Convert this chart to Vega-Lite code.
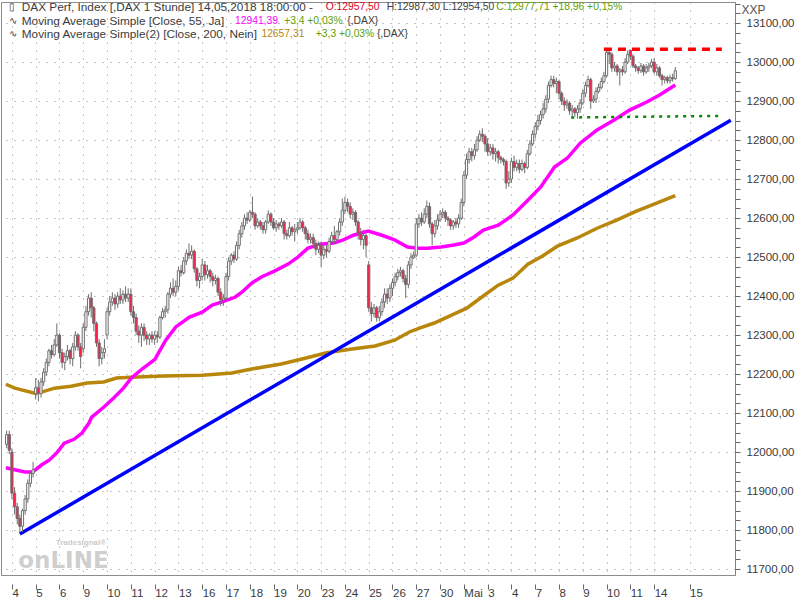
{
"$schema": "https://vega.github.io/schema/vega-lite/v6.json",
"width": 734, "height": 573,
"autosize": {"type": "none"},
"padding": {"left": 1, "top": 2, "right": 65, "bottom": 25},
"background": "white",
"config": {"view": {"stroke": "#8c8c8c", "strokeWidth": 1}, "font": "Liberation Sans", "axis": {"labelFont": "Liberation Sans", "labelOverlap": false}},
"datasets": {
"ohlc": [
{"i":-2,"o":12020,"h":12055,"l":12010,"c":12045},{"i":-1,"o":12045,"h":12055,"l":11995,"c":12005},
{"i":0,"o":12000,"h":12010,"l":11880,"c":11895},{"i":1,"o":11895,"h":11910,"l":11840,"c":11860},{"i":2,"o":11860,"h":11870,"l":11815,"c":11830},{"i":3,"o":11830,"h":11840,"l":11795,"c":11810},{"i":4,"o":11810,"h":11855,"l":11795,"c":11850},{"i":5,"o":11850,"h":11890,"l":11840,"c":11880},{"i":6,"o":11880,"h":11930,"l":11870,"c":11920},{"i":7,"o":11920,"h":11950,"l":11910,"c":11945},{"i":8,"o":11945,"h":11975,"l":11935,"c":11955},
{"i":9,"o":12150,"h":12190,"l":12135,"c":12165},{"i":10,"o":12165,"h":12185,"l":12130,"c":12150},{"i":11,"o":12150,"h":12190,"l":12140,"c":12180},{"i":12,"o":12180,"h":12215,"l":12170,"c":12205},{"i":13,"o":12205,"h":12240,"l":12195,"c":12230},{"i":14,"o":12230,"h":12265,"l":12220,"c":12260},{"i":15,"o":12260,"h":12275,"l":12240,"c":12250},{"i":16,"o":12250,"h":12290,"l":12245,"c":12275},{"i":17,"o":12275,"h":12330,"l":12270,"c":12300},
{"i":18,"o":12300,"h":12305,"l":12240,"c":12255},{"i":19,"o":12255,"h":12265,"l":12215,"c":12230},{"i":20,"o":12230,"h":12255,"l":12210,"c":12245},{"i":21,"o":12245,"h":12275,"l":12235,"c":12260},{"i":22,"o":12260,"h":12265,"l":12225,"c":12240},{"i":23,"o":12240,"h":12280,"l":12220,"c":12270},{"i":24,"o":12270,"h":12310,"l":12260,"c":12300},{"i":25,"o":12300,"h":12305,"l":12260,"c":12270},{"i":26,"o":12270,"h":12280,"l":12215,"c":12245},
{"i":27,"o":12265,"h":12330,"l":12255,"c":12320},{"i":28,"o":12320,"h":12375,"l":12310,"c":12360},{"i":29,"o":12360,"h":12405,"l":12350,"c":12395},{"i":30,"o":12395,"h":12410,"l":12345,"c":12370},{"i":31,"o":12370,"h":12375,"l":12310,"c":12330},{"i":32,"o":12330,"h":12335,"l":12270,"c":12280},{"i":33,"o":12280,"h":12290,"l":12220,"c":12240},{"i":34,"o":12240,"h":12270,"l":12225,"c":12255},{"i":35,"o":12255,"h":12290,"l":12240,"c":12265},
{"i":36,"o":12300,"h":12370,"l":12290,"c":12360},{"i":37,"o":12360,"h":12400,"l":12350,"c":12385},{"i":38,"o":12385,"h":12410,"l":12375,"c":12395},{"i":39,"o":12395,"h":12405,"l":12365,"c":12380},{"i":40,"o":12380,"h":12410,"l":12370,"c":12400},{"i":41,"o":12400,"h":12420,"l":12380,"c":12390},{"i":42,"o":12390,"h":12415,"l":12380,"c":12405},{"i":43,"o":12405,"h":12425,"l":12385,"c":12395},{"i":44,"o":12395,"h":12420,"l":12385,"c":12405},
{"i":45,"o":12405,"h":12420,"l":12350,"c":12360},{"i":46,"o":12360,"h":12375,"l":12330,"c":12345},{"i":47,"o":12345,"h":12355,"l":12300,"c":12310},{"i":48,"o":12310,"h":12325,"l":12280,"c":12300},{"i":49,"o":12300,"h":12330,"l":12270,"c":12320},{"i":50,"o":12320,"h":12330,"l":12285,"c":12300},{"i":51,"o":12300,"h":12310,"l":12275,"c":12290},{"i":52,"o":12290,"h":12305,"l":12275,"c":12300},{"i":53,"o":12300,"h":12310,"l":12280,"c":12290},
{"i":54,"o":12290,"h":12310,"l":12275,"c":12300},{"i":55,"o":12300,"h":12310,"l":12280,"c":12295},{"i":56,"o":12295,"h":12350,"l":12290,"c":12345},{"i":57,"o":12345,"h":12370,"l":12340,"c":12360},{"i":58,"o":12360,"h":12375,"l":12345,"c":12365},{"i":59,"o":12365,"h":12410,"l":12355,"c":12405},{"i":60,"o":12405,"h":12435,"l":12395,"c":12420},{"i":61,"o":12420,"h":12445,"l":12400,"c":12410},{"i":62,"o":12410,"h":12440,"l":12400,"c":12425},
{"i":63,"o":12425,"h":12475,"l":12415,"c":12465},{"i":64,"o":12465,"h":12480,"l":12450,"c":12460},{"i":65,"o":12460,"h":12500,"l":12455,"c":12490},{"i":66,"o":12490,"h":12520,"l":12480,"c":12510},{"i":67,"o":12510,"h":12535,"l":12495,"c":12505},{"i":68,"o":12505,"h":12530,"l":12495,"c":12515},{"i":69,"o":12515,"h":12520,"l":12460,"c":12470},{"i":70,"o":12470,"h":12475,"l":12425,"c":12440},{"i":71,"o":12440,"h":12460,"l":12420,"c":12450},
{"i":72,"o":12450,"h":12495,"l":12440,"c":12480},{"i":73,"o":12480,"h":12490,"l":12440,"c":12455},{"i":74,"o":12455,"h":12480,"l":12445,"c":12465},{"i":75,"o":12465,"h":12470,"l":12435,"c":12450},{"i":76,"o":12450,"h":12460,"l":12425,"c":12440},{"i":77,"o":12440,"h":12455,"l":12430,"c":12445},{"i":78,"o":12445,"h":12450,"l":12400,"c":12410},{"i":79,"o":12410,"h":12420,"l":12375,"c":12390},{"i":80,"o":12390,"h":12405,"l":12375,"c":12395},
{"i":81,"o":12395,"h":12460,"l":12390,"c":12450},{"i":82,"o":12450,"h":12500,"l":12440,"c":12490},{"i":83,"o":12490,"h":12510,"l":12480,"c":12505},{"i":84,"o":12505,"h":12515,"l":12485,"c":12495},{"i":85,"o":12495,"h":12540,"l":12490,"c":12530},{"i":86,"o":12530,"h":12570,"l":12520,"c":12560},{"i":87,"o":12560,"h":12590,"l":12550,"c":12580},{"i":88,"o":12580,"h":12610,"l":12570,"c":12600},{"i":89,"o":12600,"h":12615,"l":12585,"c":12595},
{"i":90,"o":12595,"h":12620,"l":12590,"c":12615},{"i":91,"o":12615,"h":12655,"l":12600,"c":12610},{"i":92,"o":12610,"h":12615,"l":12570,"c":12580},{"i":93,"o":12580,"h":12600,"l":12575,"c":12590},{"i":94,"o":12590,"h":12595,"l":12570,"c":12580},{"i":95,"o":12580,"h":12590,"l":12560,"c":12570},{"i":96,"o":12570,"h":12595,"l":12560,"c":12590},{"i":97,"o":12590,"h":12620,"l":12585,"c":12610},{"i":98,"o":12610,"h":12615,"l":12580,"c":12590},
{"i":99,"o":12590,"h":12600,"l":12570,"c":12575},{"i":100,"o":12575,"h":12595,"l":12565,"c":12585},{"i":101,"o":12585,"h":12590,"l":12570,"c":12580},{"i":102,"o":12580,"h":12600,"l":12575,"c":12590},{"i":103,"o":12590,"h":12595,"l":12545,"c":12560},{"i":104,"o":12560,"h":12570,"l":12545,"c":12555},{"i":105,"o":12555,"h":12590,"l":12550,"c":12575},{"i":106,"o":12575,"h":12580,"l":12555,"c":12565},{"i":107,"o":12565,"h":12585,"l":12540,"c":12570},
{"i":108,"o":12570,"h":12590,"l":12560,"c":12575},{"i":109,"o":12575,"h":12600,"l":12570,"c":12590},{"i":110,"o":12590,"h":12595,"l":12565,"c":12575},{"i":111,"o":12575,"h":12580,"l":12545,"c":12560},{"i":112,"o":12560,"h":12570,"l":12535,"c":12545},{"i":113,"o":12545,"h":12560,"l":12535,"c":12550},{"i":114,"o":12550,"h":12560,"l":12525,"c":12535},{"i":115,"o":12535,"h":12545,"l":12505,"c":12520},{"i":116,"o":12520,"h":12540,"l":12510,"c":12530},
{"i":117,"o":12530,"h":12540,"l":12475,"c":12505},{"i":118,"o":12505,"h":12530,"l":12495,"c":12520},{"i":119,"o":12520,"h":12530,"l":12500,"c":12515},{"i":120,"o":12515,"h":12550,"l":12510,"c":12540},{"i":121,"o":12540,"h":12565,"l":12535,"c":12555},{"i":122,"o":12555,"h":12580,"l":12535,"c":12545},{"i":123,"o":12545,"h":12570,"l":12540,"c":12565},{"i":124,"o":12565,"h":12600,"l":12555,"c":12590},{"i":125,"o":12590,"h":12650,"l":12580,"c":12620},
{"i":126,"o":12620,"h":12655,"l":12610,"c":12640},{"i":127,"o":12640,"h":12650,"l":12615,"c":12630},{"i":128,"o":12630,"h":12640,"l":12600,"c":12610},{"i":129,"o":12610,"h":12625,"l":12595,"c":12615},{"i":130,"o":12615,"h":12620,"l":12580,"c":12590},{"i":131,"o":12590,"h":12595,"l":12545,"c":12560},{"i":132,"o":12560,"h":12575,"l":12530,"c":12545},{"i":133,"o":12545,"h":12570,"l":12520,"c":12555},{"i":134,"o":12555,"h":12560,"l":12500,"c":12530},
{"i":135,"o":12480,"h":12490,"l":12360,"c":12370},{"i":136,"o":12370,"h":12385,"l":12335,"c":12355},{"i":137,"o":12355,"h":12380,"l":12345,"c":12370},{"i":138,"o":12370,"h":12375,"l":12335,"c":12345},{"i":139,"o":12345,"h":12375,"l":12335,"c":12360},{"i":140,"o":12360,"h":12395,"l":12350,"c":12385},{"i":141,"o":12385,"h":12420,"l":12370,"c":12405},{"i":142,"o":12405,"h":12420,"l":12380,"c":12395},{"i":143,"o":12395,"h":12430,"l":12385,"c":12420},
{"i":144,"o":12420,"h":12445,"l":12400,"c":12435},{"i":145,"o":12435,"h":12460,"l":12425,"c":12450},{"i":146,"o":12450,"h":12470,"l":12440,"c":12460},{"i":147,"o":12460,"h":12475,"l":12450,"c":12465},{"i":148,"o":12465,"h":12470,"l":12435,"c":12445},{"i":149,"o":12445,"h":12455,"l":12395,"c":12430},{"i":150,"o":12430,"h":12490,"l":12420,"c":12480},{"i":151,"o":12480,"h":12510,"l":12470,"c":12500},{"i":152,"o":12500,"h":12515,"l":12495,"c":12505},
{"i":153,"o":12505,"h":12600,"l":12500,"c":12585},{"i":154,"o":12585,"h":12610,"l":12575,"c":12600},{"i":155,"o":12600,"h":12615,"l":12580,"c":12590},{"i":156,"o":12590,"h":12625,"l":12585,"c":12610},{"i":157,"o":12610,"h":12645,"l":12600,"c":12630},{"i":158,"o":12630,"h":12640,"l":12575,"c":12585},{"i":159,"o":12585,"h":12590,"l":12530,"c":12560},{"i":160,"o":12560,"h":12595,"l":12550,"c":12580},{"i":161,"o":12580,"h":12610,"l":12570,"c":12595},
{"i":162,"o":12595,"h":12620,"l":12590,"c":12610},{"i":163,"o":12610,"h":12625,"l":12600,"c":12615},{"i":164,"o":12615,"h":12620,"l":12590,"c":12600},{"i":165,"o":12600,"h":12605,"l":12580,"c":12595},{"i":166,"o":12595,"h":12600,"l":12570,"c":12580},{"i":167,"o":12580,"h":12595,"l":12570,"c":12590},{"i":168,"o":12590,"h":12600,"l":12575,"c":12585},{"i":169,"o":12585,"h":12610,"l":12575,"c":12600},{"i":170,"o":12600,"h":12650,"l":12595,"c":12640},
{"i":171,"o":12640,"h":12720,"l":12630,"c":12710},{"i":172,"o":12710,"h":12765,"l":12700,"c":12750},{"i":173,"o":12750,"h":12780,"l":12740,"c":12770},{"i":174,"o":12770,"h":12780,"l":12745,"c":12760},{"i":175,"o":12760,"h":12790,"l":12750,"c":12775},{"i":176,"o":12775,"h":12810,"l":12770,"c":12800},{"i":177,"o":12800,"h":12825,"l":12795,"c":12815},{"i":178,"o":12815,"h":12830,"l":12795,"c":12810},{"i":179,"o":12810,"h":12815,"l":12770,"c":12790},
{"i":180,"o":12790,"h":12805,"l":12760,"c":12770},{"i":181,"o":12770,"h":12790,"l":12760,"c":12780},{"i":182,"o":12780,"h":12790,"l":12750,"c":12765},{"i":183,"o":12765,"h":12780,"l":12745,"c":12770},{"i":184,"o":12770,"h":12775,"l":12740,"c":12755},{"i":185,"o":12755,"h":12760,"l":12740,"c":12750},{"i":186,"o":12750,"h":12755,"l":12735,"c":12745},{"i":187,"o":12745,"h":12750,"l":12675,"c":12690},{"i":188,"o":12690,"h":12720,"l":12680,"c":12700},
{"i":189,"o":12700,"h":12755,"l":12690,"c":12745},{"i":190,"o":12745,"h":12760,"l":12720,"c":12730},{"i":191,"o":12730,"h":12750,"l":12720,"c":12740},{"i":192,"o":12740,"h":12750,"l":12715,"c":12725},{"i":193,"o":12725,"h":12750,"l":12720,"c":12740},{"i":194,"o":12740,"h":12745,"l":12715,"c":12730},{"i":195,"o":12730,"h":12775,"l":12725,"c":12765},{"i":196,"o":12765,"h":12800,"l":12760,"c":12790},{"i":197,"o":12790,"h":12825,"l":12785,"c":12815},
{"i":198,"o":12815,"h":12845,"l":12805,"c":12835},{"i":199,"o":12835,"h":12865,"l":12825,"c":12850},{"i":200,"o":12850,"h":12875,"l":12840,"c":12865},{"i":201,"o":12865,"h":12895,"l":12855,"c":12880},{"i":202,"o":12880,"h":12915,"l":12870,"c":12905},{"i":203,"o":12905,"h":12950,"l":12895,"c":12940},{"i":204,"o":12940,"h":12965,"l":12935,"c":12955},{"i":205,"o":12955,"h":12965,"l":12935,"c":12945},{"i":206,"o":12945,"h":12960,"l":12920,"c":12950},
{"i":207,"o":12950,"h":12955,"l":12905,"c":12920},{"i":208,"o":12920,"h":12925,"l":12890,"c":12900},{"i":209,"o":12900,"h":12910,"l":12875,"c":12890},{"i":210,"o":12890,"h":12905,"l":12880,"c":12895},{"i":211,"o":12895,"h":12900,"l":12865,"c":12875},{"i":212,"o":12875,"h":12890,"l":12860,"c":12880},{"i":213,"o":12880,"h":12885,"l":12860,"c":12870},{"i":214,"o":12870,"h":12890,"l":12855,"c":12880},{"i":215,"o":12880,"h":12905,"l":12870,"c":12895},
{"i":216,"o":12895,"h":12930,"l":12890,"c":12920},{"i":217,"o":12920,"h":12950,"l":12910,"c":12940},{"i":218,"o":12940,"h":12965,"l":12935,"c":12955},{"i":219,"o":12955,"h":12960,"l":12880,"c":12900},{"i":220,"o":12900,"h":12915,"l":12895,"c":12905},{"i":221,"o":12905,"h":12935,"l":12895,"c":12925},{"i":222,"o":12925,"h":12945,"l":12920,"c":12935},{"i":223,"o":12935,"h":12960,"l":12930,"c":12950},{"i":224,"o":12950,"h":12975,"l":12945,"c":12965},
{"i":225,"o":12965,"h":13033,"l":12960,"c":13025},{"i":226,"o":13025,"h":13032,"l":12995,"c":13020},{"i":227,"o":13020,"h":13025,"l":12975,"c":12985},{"i":228,"o":12985,"h":13000,"l":12975,"c":12990},{"i":229,"o":12990,"h":12995,"l":12965,"c":12975},{"i":230,"o":12975,"h":12985,"l":12940,"c":12980},{"i":231,"o":12980,"h":12990,"l":12965,"c":12975},{"i":232,"o":12975,"h":13010,"l":12970,"c":13000},{"i":233,"o":13000,"h":13030,"l":12995,"c":13020},
{"i":234,"o":13030,"h":13033,"l":13005,"c":13015},{"i":235,"o":13015,"h":13020,"l":12985,"c":12990},{"i":236,"o":12990,"h":12995,"l":12975,"c":12985},{"i":237,"o":12985,"h":12990,"l":12970,"c":12978},{"i":238,"o":12978,"h":12998,"l":12972,"c":12990},{"i":239,"o":12990,"h":12995,"l":12965,"c":12975},{"i":240,"o":12975,"h":12995,"l":12970,"c":12985},{"i":241,"o":12985,"h":12998,"l":12975,"c":12990},{"i":242,"o":12990,"h":13008,"l":12985,"c":13000},
{"i":243,"o":13000,"h":13010,"l":12970,"c":12975},{"i":244,"o":12975,"h":12995,"l":12965,"c":12985},{"i":245,"o":12985,"h":12990,"l":12960,"c":12965},{"i":246,"o":12965,"h":12970,"l":12940,"c":12955},{"i":247,"o":12955,"h":12965,"l":12945,"c":12960},{"i":248,"o":12960,"h":12965,"l":12945,"c":12952},{"i":249,"o":12952,"h":12968,"l":12945,"c":12960},{"i":250,"o":12960,"h":12970,"l":12950,"c":12957.5},{"i":251,"o":12957.5,"h":12987.3,"l":12954.5,"c":12977.71}
],
"ma55": [
{"i":-2.3,"v":11960},{"i":4.85,"v":11949},{"i":7.84,"v":11949},{"i":11.2,"v":11967},{"i":14.2,"v":11980},{"i":17.2,"v":12000},{"i":19.8,"v":12023},{"i":23.5,"v":12033},{"i":26.5,"v":12049},{"i":29.1,"v":12074},{"i":30.2,"v":12090},{"i":34.7,"v":12115},{"i":38.4,"v":12138},{"i":42.2,"v":12164},{"i":45.2,"v":12190},{"i":49.6,"v":12215},{"i":54.1,"v":12238},{"i":58.2,"v":12287},{"i":62.0,"v":12321},{"i":67.2,"v":12346},{"i":72.0,"v":12359},{"i":75.8,"v":12377},{"i":79.5,"v":12385},{"i":84.4,"v":12397},{"i":87.0,"v":12410},{"i":90.7,"v":12433},{"i":94.4,"v":12449},{"i":99.3,"v":12464},{"i":104.5,"v":12482},{"i":108.2,"v":12500},{"i":112.0,"v":12523},{"i":116.8,"v":12533},{"i":121.7,"v":12536},{"i":125.4,"v":12544},{"i":129.2,"v":12556},{"i":134.8,"v":12567},{"i":140.0,"v":12556},{"i":144.8,"v":12544},{"i":149.7,"v":12526},{"i":153.4,"v":12523},{"i":157.2,"v":12523},{"i":162.4,"v":12526},{"i":167.2,"v":12531},{"i":171.0,"v":12536},{"i":174.7,"v":12551},{"i":178.4,"v":12569},{"i":184.0,"v":12582},{"i":189.6,"v":12608},{"i":195.2,"v":12646},{"i":200.1,"v":12680},{"i":205.3,"v":12731},{"i":210.2,"v":12754},{"i":215.0,"v":12792},{"i":221.4,"v":12826},{"i":227.7,"v":12851},{"i":233.7,"v":12877},{"i":240.0,"v":12897},{"i":244.9,"v":12915},{"i":251.0,"v":12941.39}
],
"ma200": [
{"i":-2.3,"v":12174},{"i":1.1,"v":12164},{"i":8.6,"v":12151},{"i":11.2,"v":12154},{"i":16.1,"v":12164},{"i":22.4,"v":12169},{"i":28.4,"v":12177},{"i":34.7,"v":12180},{"i":39.6,"v":12190},{"i":45.2,"v":12192},{"i":57.1,"v":12195},{"i":72.0,"v":12197},{"i":83.2,"v":12203},{"i":90.7,"v":12213},{"i":101.9,"v":12226},{"i":109.4,"v":12238},{"i":118.7,"v":12254},{"i":128.0,"v":12264},{"i":137.4,"v":12272},{"i":144.8,"v":12287},{"i":150.4,"v":12308},{"i":154.2,"v":12318},{"i":159.8,"v":12331},{"i":167.2,"v":12354},{"i":172.1,"v":12369},{"i":177.7,"v":12397},{"i":184.0,"v":12428},{"i":189.6,"v":12446},{"i":195.2,"v":12482},{"i":200.8,"v":12503},{"i":206.4,"v":12528},{"i":213.9,"v":12549},{"i":221.4,"v":12574},{"i":228.8,"v":12595},{"i":236.3,"v":12618},{"i":243.7,"v":12638},{"i":251.0,"v":12657.31}
],
"trend": [{"i":3,"v":11790},{"i":272,"v":12851}],
"res": [{"i":224,"v":13033},{"i":268.6,"v":13033}],
"sup": [{"i":211.6,"v":12858},{"i":268.8,"v":12862}],
"hdr": [
{"i":-1.2,"p":13141,"t":"▯","k":"icon"},
{"i":3.73,"p":13141,"t":"DAX Perf, Index [,DAX  1 Stunde] 14,05,2018 18:00:00 -","k":"name"},
{"i":118.7,"p":13141,"t":"O:12957,50","k":"red"},
{"i":141.8,"p":13141,"t":"H:12987,30 L:12954,50","k":"num"},
{"i":183.3,"p":13141,"t":"C:12977,71 +18,96 +0,15%","k":"grn"},
{"i":-1.2,"p":13106,"t":"∿","k":"icon"},
{"i":3.73,"p":13106,"t":"Moving Average Simple [Close, 55, Ja]","k":"name"},
{"i":84.4,"p":13106,"t":"12941,39","k":"mag"},
{"i":103.0,"p":13106,"t":"+3,4 +0,03%","k":"grn"},
{"i":126.9,"p":13106,"t":"{,DAX}","k":"num"},
{"i":-1.2,"p":13073,"t":"∿","k":"icon"},
{"i":3.73,"p":13073,"t":"Moving Average Simple(2) [Close, 200, Nein]","k":"name"},
{"i":94.4,"p":13073,"t":"12657,31","k":"brn"},
{"i":115.0,"p":13073,"t":"+3,3 +0,03%","k":"grn"},
{"i":138.1,"p":13073,"t":"{,DAX}","k":"num"}
],
"logo": [
{"i":2.4,"p":11722,"t":"onLINE"},
{"i":16.6,"p":11768,"t":"Tradesignal®"}
]
},
"layer": [
{"data": {"name": "logo"},
 "transform": [{"filter": "datum.t == 'onLINE'"}],
 "mark": {"type": "text", "align": "left", "baseline": "middle", "font": "DejaVu Sans", "fontWeight": "bold", "fontSize": 23, "color": "#cfcfcf"},
 "encoding": {
  "x": {"field": "i", "type": "quantitative", "scale": {"domain": [-2.24, 271.7], "nice": false, "zero": false},
   "axis": {"values": [0,9,18,27,36,45,54,63,72,81,90,99,108,117,126,135,144,153,162,171,180,189,198,207,216,225,234,243,256.4],
    "tickCount": 200,
    "labelExpr": "['4','5','6','9','10','11','12','13','16','17','18','19','20','23','24','25','26','27','30','Mai','3','4','7','8','9','10','11','14','15'][floor(datum.value/9+0.01)]",
    "grid": true, "gridDash": [1,7], "gridColor": "#8c8c8c", "domain": false,
    "tickSize": 14, "tickDash": [0,9,5,10], "tickColor": "#666666",
    "labelAlign": "left", "labelBaseline": "top", "labelDx": 3, "labelPadding": -2,
    "labelFontSize": 11.5, "labelColor": "#3a3a3a", "labelOverlap": false, "labelFlush": false, "title": null}},
  "y": {"field": "p", "type": "quantitative", "scale": {"domain": [11685, 13154], "nice": false, "zero": false},
   "axis": {"orient": "right",
    "values": [11700,11725,11750,11775,11800,11825,11850,11875,11900,11925,11950,11975,12000,12025,12050,12075,12100,12125,12150,12175,12200,12225,12250,12275,12300,12325,12350,12375,12400,12425,12450,12475,12500,12525,12550,12575,12600,12625,12650,12675,12700,12725,12750,12775,12800,12825,12850,12875,12900,12925,12950,12975,13000,13025,13050,13075,13100,13125,13150],
    "tickCount": 200,
    "labelExpr": "datum.value % 100 == 0 ? replace(format(datum.value, '.2f'), '.', ',') : ''",
    "grid": true, "gridDash": [1,7], "gridColor": "#8c8c8c",
    "gridOpacity": {"condition": {"test": "datum.value % 100 != 0", "value": 0}, "value": 1},
    "domain": true, "domainColor": "#808080", "tickSize": 5, "tickColor": "#666666",
    "labelPadding": 6, "labelFontSize": 11.5, "labelColor": "#3a3a3a", "labelOverlap": false, "labelFlush": false,
    "title": "XXP", "titleAngle": 0, "titleAlign": "left", "titleBaseline": "middle", "titleX": 6, "titleY": 7,
    "titleFontWeight": "normal", "titleFontSize": 12, "titleColor": "#555555", "titleFont": "Liberation Sans"}},
  "text": {"field": "t"}}},
{"data": {"name": "logo"},
 "transform": [{"filter": "datum.t != 'onLINE'"}],
 "mark": {"type": "text", "align": "left", "baseline": "middle", "font": "Liberation Sans", "fontWeight": "bold", "fontSize": 8, "color": "#cccccc"},
 "encoding": {
  "x": {"field": "i", "type": "quantitative", "scale": {"domain": [-2.24, 271.7], "nice": false, "zero": false}},
  "y": {"field": "p", "type": "quantitative", "scale": {"domain": [11685, 13154], "nice": false, "zero": false}},
  "text": {"field": "t"}}},
{"data": {"name": "ma200"},
 "mark": {"type": "line", "color": "#b8860b", "strokeWidth": 3.5, "clip": true},
 "encoding": {
  "x": {"field": "i", "type": "quantitative", "scale": {"domain": [-2.24, 271.7], "nice": false, "zero": false}},
  "y": {"field": "v", "type": "quantitative", "scale": {"domain": [11685, 13154], "nice": false, "zero": false}}}},
{"data": {"name": "trend"},
 "mark": {"type": "line", "color": "#0000ff", "strokeWidth": 3.5, "clip": true},
 "encoding": {
  "x": {"field": "i", "type": "quantitative", "scale": {"domain": [-2.24, 271.7], "nice": false, "zero": false}},
  "y": {"field": "v", "type": "quantitative", "scale": {"domain": [11685, 13154], "nice": false, "zero": false}}}},
{"data": {"name": "ma55"},
 "mark": {"type": "line", "color": "#ff00ff", "strokeWidth": 3.5, "clip": true},
 "encoding": {
  "x": {"field": "i", "type": "quantitative", "scale": {"domain": [-2.24, 271.7], "nice": false, "zero": false}},
  "y": {"field": "v", "type": "quantitative", "scale": {"domain": [11685, 13154], "nice": false, "zero": false}}}},
{"data": {"name": "ohlc"},
 "mark": {"type": "rule", "color": "#6e6e6e", "strokeWidth": 1, "clip": true},
 "encoding": {
  "x": {"field": "i", "type": "quantitative", "scale": {"domain": [-2.24, 271.7], "nice": false, "zero": false}},
  "y": {"field": "l", "type": "quantitative", "scale": {"domain": [11685, 13154], "nice": false, "zero": false}},
  "y2": {"field": "h"}}},
{"data": {"name": "ohlc"},
 "mark": {"type": "bar", "size": 2.2, "stroke": "#6e6e6e", "strokeWidth": 1, "clip": true},
 "encoding": {
  "x": {"field": "i", "type": "quantitative", "scale": {"domain": [-2.24, 271.7], "nice": false, "zero": false}},
  "y": {"field": "o", "type": "quantitative", "scale": {"domain": [11685, 13154], "nice": false, "zero": false}},
  "y2": {"field": "c"},
  "fill": {"condition": {"test": "datum.c < datum.o", "value": "#ff1f4b"}, "value": "#ffffff"}}},
{"data": {"name": "res"},
 "mark": {"type": "line", "color": "#ff0000", "strokeWidth": 3.5, "strokeDash": [8,6], "clip": true},
 "encoding": {
  "x": {"field": "i", "type": "quantitative", "scale": {"domain": [-2.24, 271.7], "nice": false, "zero": false}},
  "y": {"field": "v", "type": "quantitative", "scale": {"domain": [11685, 13154], "nice": false, "zero": false}}}},
{"data": {"name": "sup"},
 "mark": {"type": "line", "color": "#008a00", "strokeWidth": 2.5, "strokeDash": [3,5], "clip": true},
 "encoding": {
  "x": {"field": "i", "type": "quantitative", "scale": {"domain": [-2.24, 271.7], "nice": false, "zero": false}},
  "y": {"field": "v", "type": "quantitative", "scale": {"domain": [11685, 13154], "nice": false, "zero": false}}}},
{"data": {"name": "hdr"},
 "transform": [{"filter": "datum.k == 'name'"}],
 "mark": {"type": "text", "align": "left", "baseline": "middle", "font": "Liberation Sans", "fontSize": 11.8, "color": "#3c3c3c"},
 "encoding": {
  "x": {"field": "i", "type": "quantitative", "scale": {"domain": [-2.24, 271.7], "nice": false, "zero": false}},
  "y": {"field": "p", "type": "quantitative", "scale": {"domain": [11685, 13154], "nice": false, "zero": false}},
  "text": {"field": "t"}}},
{"data": {"name": "hdr"},
 "transform": [{"filter": "datum.k != 'name'"}],
 "mark": {"type": "text", "align": "left", "baseline": "middle", "font": "Liberation Sans", "fontSize": 10.3},
 "encoding": {
  "x": {"field": "i", "type": "quantitative", "scale": {"domain": [-2.24, 271.7], "nice": false, "zero": false}},
  "y": {"field": "p", "type": "quantitative", "scale": {"domain": [11685, 13154], "nice": false, "zero": false}},
  "text": {"field": "t"},
  "color": {"field": "k", "type": "nominal", "legend": null,
   "scale": {"domain": ["icon","num","red","grn","mag","brn"], "range": ["#3c3c3c","#3c3c3c","#e0002a","#5f9f00","#ff00ff","#b8860b"]}}}}
]
}
